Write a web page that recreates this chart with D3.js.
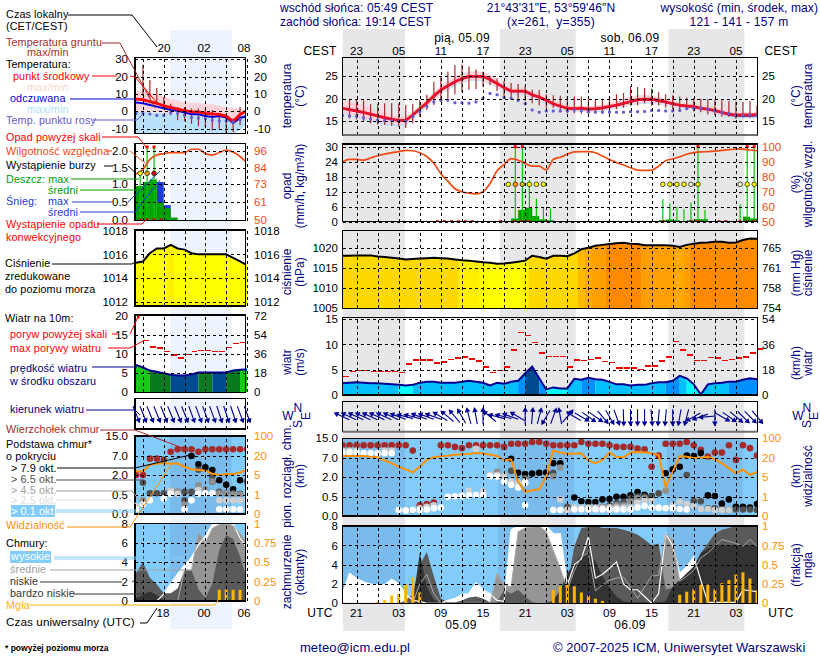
<!DOCTYPE html>
<html><head><meta charset="utf-8">
<script src="https://cdnjs.cloudflare.com/ajax/libs/d3/7.8.5/d3.min.js"></script>
<style>html,body{margin:0;padding:0;background:#fff}svg{display:block}text{font-family:"Liberation Sans",Arial,sans-serif;font-size:12px}</style>
</head><body><svg id="c" width="820" height="660"></svg>
<script>
// ---------- main series, hourly ----------
const temp=[17.9,17.6,17.3,17,16.6,16.2,15.8,15.5,15.2,15.2,16.4,17.8,19.1,20.6,22,22.9,23.8,24.5,25,25,25,24.3,23.4,22.5,21.7,21.7,21.7,20.9,20.4,19.7,18.9,18.4,17.9,17.8,17.9,17.7,17.8,18,18.3,18.6,19,19.4,19.8,19.9,19.9,19.6,19.3,18.9,18.6,18.4,18.3,17.9,17.7,17.4,17,16.6,16.4,16.4,16.4,16.5];
const tempHi=[19.4,19.3,19,18.5,18,17.5,17,16.5,16.2,16.2,17.2,18.6,20,21.5,23,24,25,25.7,26,26.2,26,25.3,24.3,23.3,22.5,22.5,22.5,21.7,21.2,20.6,19.7,19.2,18.6,18.5,18.5,18.4,18.5,18.7,19.1,19.5,20,20.5,20.8,20.9,20.8,20.4,20,19.6,19.2,19,18.9,18.6,18.4,18.2,17.8,17.3,17,17,17,17];
const tempLo=[16.8,16.5,16,15.6,15.2,14.9,14.6,14.4,14.2,14.3,15.5,17,18.3,19.8,21.2,22.1,23,23.6,24.1,24.2,24.1,23.4,22.6,21.8,21,21,21,20.2,19.7,19,18.3,17.8,17.3,17.2,17.3,17.1,17.2,17.4,17.7,18,18.3,18.7,19,19.1,19.1,18.9,18.6,18.3,18,17.8,17.7,17.3,17.1,16.8,16.4,16,15.9,15.9,15.9,16];
const felt=[17.8,17.5,17.2,16.9,16.5,16.1,15.7,15.4,15.1,15.1,16.3,17.7,19,20.5,21.9,22.8,23.7,24.4,24.9,24.9,24.9,24.2,23.3,22.4,21.6,21.6,21.6,20.8,20.3,19.6,18.8,18.3,17.8,17.7,17.8,17.6,17.7,17.9,18.2,18.5,18.9,19.3,19.7,19.8,19.8,19.5,19.2,18.8,18.5,18.3,18.2,17.8,17.6,17.3,16.9,16.4,16.2,16.2,16.2,16.3];
const feltLo=[16.5,16.2,15.7,15.3,14.9,14.5,14.2,14,13.9,14,15.3,16.8,18.1,19.6,21,21.9,22.8,23.4,23.9,24,23.9,23.2,22.4,21.6,20.8,20.8,20.8,20,19.5,18.8,18.1,17.6,17.1,17,17.1,16.9,17,17.2,17.5,17.8,18.1,18.5,18.8,18.9,18.9,18.7,18.4,18.1,17.8,17.6,17.5,17.1,16.9,16.6,16.2,15.8,15.6,15.6,15.6,15.7];
const dew=[16.3,16.2,16.1,15.8,15.5,15.3,15.1,15.1,15,15,16,17.1,18.3,19.3,19.7,19.7,19.1,19.1,19,19.3,20.1,21.2,20.9,20.3,20.1,19.6,18.9,17.5,17,17.3,17.3,17.3,17.3,17.5,17.4,17.1,17,17,17,17,17,17.1,17.1,17.2,17.4,17.4,17.3,17.3,17.4,17.8,17.9,17.9,17.7,17.3,17,16.8,16.4,16.3,16.4,16.4];
const groundMax=[null,20,19.8,19.6,18.8,18.9,19,19,18.9,18.6,18.9,19.7,20.9,23.8,25,26,27.5,27.6,27.2,26.5,26,25,24.5,24,23.5,23.3,23,22,22,21,20.8,20.7,20.4,20.5,20.5,19.9,19.8,20,20.5,21,21.3,22.8,22.6,22.4,22.3,21.5,21,20.8,20.5,20.3,20.1,20,19.9,19.8,19.7,19.5,19.4,19.3,19.5,18.5];
const groundMin=[null,15.6,15.4,15,14.5,14.3,14.2,14,13.8,13.5,14.5,16,17.5,18.6,19.3,20,21,21.5,22,22.2,22.7,23,21.7,20.5,20,20,19.5,19,18.5,18,18,17,16.8,16.8,16.7,16.7,17,17,17.3,17.7,18,18.5,18.5,19,18.5,18.5,18,17.7,17.5,17.5,17.2,17,16.5,16.3,16,16,15.5,15.8,15.8,16];
const humidity=[90,91.5,91.5,91,92.5,94,95,96,96.7,97.5,97.3,96,93.5,89,82,77,72,70,69,68.5,70,75.5,84,88,92,91,89,87,87,84.5,91.5,93,95,96.5,96.7,96.7,96,93.8,91.5,89.5,87.8,86,84.4,84.2,84.4,87,90.7,91.8,93.3,95,96,96.5,96.7,97,97.5,98,98.4,98.4,97.8,97.3];
const rainAvg=[0,0,0,0,0,0,0,0,0,0,0,0,0,0,0,0,0,0,0,0,0,0,0,0,1.3,4.7,5.6,2.3,.9,.6,0,0,0,0,0,0,0,0,0,0,0,0,0,0,0,.6,.9,.6,0,.6,1,1,0,0,0,.2,.3,2,1.3,0];
const rainMax=[0,0,0,0,0,0,0,0,0,0,0,0,0,0,0,0,0,0,0,0,0,0,0,0,99,99,16.7,9.3,5.7,5.3,0,0,0,0,0,0,0,0,0,0,0,0,0,0,0,9,7.3,6,5,7.7,99,4.7,0,0,0,.5,7,99,99,0];
const convHours=[13.5,14.5,15.5,16.5,17.5,18.5,22.5,24.5,25.5,26.5,45.6,49.6,50.6,53.6,54.6,56.6,57.6,58.6];
const stormHours=[23.6,24.6,25.6,26.6,27.6,28.6,45.6,46.6,47.6,48.6,49.6,50.6,56.6,57.6,58.6];
const stormLevels=[1,2,2,1,1,1,1,1,1,1,0,1,0,1,1];
const pressure=[1018,1018,1018.1,1018.1,1018.1,1017.8,1017.7,1017.5,1017.3,1017.1,1017.2,1017.3,1017.4,1017.5,1017.4,1017.3,1017.1,1016.9,1016.8,1016.6,1016.4,1016.3,1016,1016.1,1016.3,1016.5,1016.8,1018,1017.7,1017.3,1018,1018,1017.9,1018.6,1019.6,1020,1020.5,1020.7,1020.9,1021.1,1021.2,1021,1020.9,1020.6,1020.6,1020.6,1020.6,1020.5,1020.2,1020.7,1021,1021.2,1021.3,1021.5,1021.5,1021.2,1021.3,1021.9,1022.3,1022.2];
const wind=[2.3,2.4,2.5,2.4,2.3,2.3,2.2,2.1,2,1.9,2,2.4,2.6,2.6,2.4,2.4,2.4,2.6,2.8,2.6,2.4,1.9,2.4,2.2,2.6,2.8,4.3,5.6,3.3,1.1,1.5,1.3,1.3,3.2,3,3.4,3.1,3,2.6,2.1,2.1,1.9,2,2,2.3,2.5,2.5,2.8,3.8,3.3,2.1,.1,2.1,2.3,2.4,2.6,2.6,3,3.3,3.1];
const gust=[3.6,4.6,4.9,4.9,4.6,4.6,4.7,4.7,4.5,6.1,6.9,6.9,6.9,6.3,6.5,7,7.3,7.5,7.1,6.7,5.5,4.5,4.9,5.5,8.9,12.4,11.8,10.4,8.3,7.6,7.6,7.6,5.5,6.9,6.8,7,7.3,6.6,6.4,5.3,5.3,5.3,5.1,5.7,5.7,6.7,7.5,10.6,8.9,7.9,6.8,6.8,7.4,7.3,6.8,7,7.3,7.5,8.3,9.1];
const windBands=[[0,8,1],[8,10,0],[10,25,1],[25,26,2],[26,28,3],[28,29,2],[29,32,0],[32,34,1],[34,36,2],[36,46,1],[46,48,2],[48,49,1],[49,51,0],[51,55,1],[55,59,2]];
const windDir=[295,295,295,295,295,295,295,295,290,285,285,290,290,290,300,310,320,330,345,350,0,310,285,285,290,300,0,5,15,210,20,350,40,300,120,125,125,140,150,160,178,180,180,180,175,185,185,180,190,195,240,250,265,180,120,125,130,135,135,140];
const visibility=[28,28,28,28,25,23,18,16,13,11,8.7,13,18.5,23,27,29,33,35,36,40,38,33,28,18,19,4,1.95,2.3,2.5,5.5,50,42,36,38,39,18,16,18.5,42,25,23,42,44,43,39,32,3,9,28,25,20,21,25,19,16,12,8,11,6.6,9];
const cloudHigh=[1,3.1,2.6,2.2,2,1.9,1.9,2.5,2,1,.3,.2,0,0,0,.3,.5,.9,1,2.1,1.4,1,.3,.2,7.6,8,8,8,8,8,7.2,7.2,1.9,4,4.6,6.9,2.6,3,3.6,4.3,2,1.4,1.4,.7,0,1,7.2,6,3.1,3.8,4.8,2.4,.1,.1,.1,.1,.1,1.4,1.3,1.2];
const cloudMid=[0,0,0,0,0,0,0,0,0,0,0,2,3,1,0,0,0,0,0,0,0,0,3.1,1.9,1.7,7.4,7.8,7.9,8,7.4,5.5,3.6,1.4,3.4,4.8,5.2,1.3,1.9,2.4,2.6,2.7,1.7,.5,1.7,2.8,2.9,7.2,6.6,2.3,2.8,3.4,4.7,5.2,5.9,6.6,6.4,6.2,5.9,6.6,5.9];
const cloudLow=[0,0,0,0,0,0,0,0,0,.3,1,4,5.3,2.8,.5,.1,.1,.3,.6,.7,.5,.1,.1,1.4,1,1.4,.7,.1,0,0,0,.3,1.7,5.9,7.8,7.9,8,7.8,7.8,7.8,7.6,7.4,7.1,6.6,6,6.2,1.4,1.6,2.4,2.8,3.1,5.2,6.2,7.2,7.6,7.8,8,8,8,8];
const cloudVeryLow=[0,0,0,0,0,0,0,0,0,0,.1,5.2,1.7,.4,0,0,0,0,0,0,0,0,0,0,0,0,0,0,0,0,.3,1.4,3.1,4.1,5,5.2,4.3,2.8,1.6,.7,.2,.1,.1,.1,.1,.1,.2,1.7,2.4,3.1,3.8,5.2,5.7,6,6,6,6,6,6,6];
const fog=[0,0,0,0,0,.02,.04,.1,.12,.24,.34,.14,0,0,0,0,0,0,0,0,0,0,0,0,0,0,0,0,0,0,.17,.22,.24,.22,.14,.1,.06,.03,0,0,0,0,0,0,0,0,0,0,.11,.15,.18,.24,.24,.18,.26,.3,.37,.4,.32,.17];
// cloud dots [hour, km]
const topsM=[[0,12.2],[1,12.2],[2,12.2],[3,12.2],[4,12.2],[5,12.2],[6,12.2],[7,12.2],[8,12.2],[9,12.2],[10,10],[11,.28],[12,.31],[13,.35],[14,12.2],[15,12.2],[16,11.5],[17,11],[18,12.2],[19,12.2],[20,12.2],[21,12.2],[22,12.2],[23,11.5],[24,12.8],[25,12.8],[26,12.8],[27,13.5],[28,13.5],[29,12.8],[30,12.2],[31,12.2],[32,12.2],[33,12.2],[34,13.5],[35,12.8],[36,12.8],[37,12.8],[38,12.2],[39,11.5],[40,11.5],[41,11.5],[42,10.8],[43,10.5],[44,4.7],[45,8],[46,12.8],[47,12.8],[48,12.8],[49,13.5],[50,12.2],[51,10.3],[52,7.6],[53,9.2],[54,9.2],[55,12.2],[56,6.5],[57,12.2],[58,11],[59,8]];
const over79M=[[24,6.8],[25,3.1],[26,2.8],[27,2.9],[28,3.1],[29,3.2],[30,5.6],[31,5.6],[33,.48],[34,.38],[35,.36],[36,.36],[37,.43],[38,.44],[39,.5],[40,.5],[41,.6],[42,.85],[43,.65],[44,.55],[46,3],[47,4],[48,4.7],[49,8],[50,7.8],[51,9],[52,.6],[53,.55],[54,.32],[55,.43],[56,.24],[57,.24],[58,.22],[59,.31]];
const over65M=[[10,.15],[11,.19],[12,.24],[13,.28],[23,2.3],[24,3.6],[26,1.9],[30,3.1],[32,.24],[33,.2],[34,.2],[35,.2],[36,.2],[37,.24],[38,.28],[39,.34],[40,.37],[41,.46],[42,.52],[43,.52],[44,.52],[45,.75],[49,2.5],[50,.39],[51,.38],[52,.2],[53,.2],[54,.17],[55,.155],[56,.17],[57,.17],[58,.17],[59,.155]];
const over45M=[[6,9.6],[7,9.6],[9,.15],[22,3.4],[23,2],[26,1.8],[30,2.2],[31,4.5],[32,.17],[33,.17],[34,.17],[35,.17],[36,.17],[37,.2],[38,.24],[39,.28],[40,.28],[41,.37],[42,.46],[43,.46],[44,.41],[46,.96]];
const over25M=[[0,10],[1,10],[2,10],[6,10],[7,10],[9,.155],[11,.2],[12,.24],[13,.28],[18,.96],[19,10.7],[20,.9],[21,2.5],[22,2.5],[23,2.3],[24,1.65],[25,1.57],[26,1.5],[31,.43],[32,.155],[33,.22],[34,.22],[35,.22],[36,.22],[37,.22],[38,.22],[39,.22],[40,.22],[41,.22],[42,.34],[43,.4],[44,.4],[45,.22],[47,.28],[48,.37],[49,.31],[50,.26],[51,.18],[52,.18],[53,.155],[54,.155],[55,.155]];
const over01M=[[0,9.2],[1,9.2],[2,9.2],[3,9],[4,9],[5,8.9],[6,8.9],[7,8.9],[8,.155],[9,.14],[10,.155],[11,.155],[12,.17],[13,.2],[14,.22],[15,.5],[16,.53],[17,.56],[18,.6],[19,.63],[20,.63],[21,2.2],[22,2.1],[23,1.65],[24,1.4],[25,1.2],[26,.28],[26,1.6],[30,.155],[31,.155],[33,.17],[34,.17],[35,.17],[36,.17],[37,.17],[38,.17],[39,.17],[40,.17],[41,.17],[42,.22],[43,.26],[44,.22],[45,.21],[46,.2],[47,.2],[48,.18],[49,.17]];
// ---------- left legend panel series, hours 14..30 ----------
const lTemp=[7,6.8,5.5,4.5,3,2,1,0,-.5,-.7,-1.5,-1.8,-2,-3,-6,-2,0];
const lFelt=[5,4.5,3.5,2.5,1.5,.5,0,-1,-2,-2,-3,-3.5,-3,-3.8,-6.8,-4,-3];
const lDew=[-1.5,-1.5,-1.9,-2.6,-2.6,-1.1,-1.5,-2.5,-3.8,-4,-4.3,-5.3,-5.7,-5.7,-6.3,-5,-3.4];
const lTempHi=[12,12,11,10,9,7,6,5,5,5,4,4,3,2,2,1,0];
const lFeltHi=[-.5,-.5,-1,-1,-1,-1.5,-1.5,-2,-3,-3,-4,-4,-4,-4.5,-7,-5,-3];
const lFeltLo=[-16,-16,-16,-16,-16,-15,-14,-14,-13,-13,-13,-13,-13,-13,-13,-11,-7];
const lGroundMax=[null,26.8,18.3,13.6,8,4.2,2.3,2.3,1.3,1.3,1.3,.4,-1.5,-2.5,-4.3,2.3,null];
const lGroundMin=[null,8.9,7.9,4.2,1.3,-2.5,-5.3,-5.7,-7.2,-8.7,-9,-11,-10,-13,-12,-8.1,null];
const lHumidity=[80,83,90,93,94,94.7,94.7,94.7,97,97,94,93,94.7,96.5,95,92,87.6];
const lRain=[.95,1.07,1.15,.5,.33,.07,0,0,0,0,0,0,0,0,0,0];
const lSnow=[0,0,0,1.07,.42,0,0,0,0,0,0,0,0,0,0,0];
const lRainMax=[1.3,9,9,0,0,0];
const lConv=[.6,1.6,2.6,3.6];
const lStorm=[.6,1.6,2.6];
const lPressure=[1015.3,1015.4,1016.1,1016.5,1016.5,1016.8,1016.5,1016.4,1016.1,1016,1016,1016,1016,1016,1015.7,1015.4,1015.1];
const lWind=[7.2,6.5,5.7,5.4,5,4.6,4.4,4.4,4.7,5.2,5.2,5.2,5.2,5.2,5.7,5.9,6];
const lGust=[null,13.6,11.9,11.6,10.7,9.8,9,9.9,10.7,11,11,10.7,10.7,11.8,12.8,13.1];
const lWindBands=[[0,2,5],[2,5,4],[5,9,3],[9,11,4],[11,13,3],[13,15,4],[15,16,5]];
const lWindDir=[158,158,158,158,158,158,158,158,160,160,160,160,162,162,162,160,160];
const lVis=[8,8,13,14,14,14,14,11.5,9.5,9,8.5,6,5,5.8,5.8,7,9];
const lHigh=[0,0,0,0,.7,1.8,2.8,3.7,4.5,5.8,6.7,7.9,8,8,8,6.5,5.5];
const lMid=[0,0,0,0,0,0,0,3.2,3.2,7.1,6,7.5,7.9,8,7.8,7,5.9];
const lLow=[2.9,4,2.4,1.7,.8,.8,1.3,3.2,3.2,1.2,.3,1.8,5.3,6.8,6.4,4.6,2.2];
const lVeryLow=[.3,.6,1,.6,.1,0,0,0,0,0,0,0,0,0,0,0,0];
const lFog=[0,0,0,0,0,0,0,0,0,0,0,0,.145,.145,.145,.145,0];
const lTops=[[0,2],[1,2],[2,6.3],[3,6.3],[4,6],[5,8.7],[6,9.7],[7,9.7],[8,9.7],[9,8.7],[10,9.7],[11,9.7],[12,9.7],[13,9.7],[14,9.7],[15,9.7],[16,9.7]];
const l79=[[8,7],[9,4.8],[10,4],[11,3.3],[11,1.5],[12,1.6],[13,1.25],[14,.9],[15,1.6]];
const l65=[[1,1.4],[2,.6],[3,.6],[4,.6],[7,.7],[7,.35],[8,.7],[9,3.4],[11,1.9],[12,.7],[13,.6],[14,.6],[15,.55],[16,1.5]];
const l45=[[1,.35],[5,.8],[6,.75],[7,.25],[9,1.2],[10,.9],[11,1.5],[12,.6],[13,.6],[14,.5],[15,.5]];
const l25=[[0,.2],[5,.8],[6,.55],[9,.85],[12,.35],[13,.35],[14,.35],[15,.35],[16,.35]];
const l01=[[0,.12],[1,.25],[2,.35],[4,.4],[5,.55],[7,.12],[8,.35],[9,.55],[10,.6],[11,.6],[12,.12],[13,.12],[14,.12],[15,.12]];
// ---------- ticks and labels ----------
const gridMain=d3.range(2,60,3), gridLeft=d3.range(15,31,3);
const topTicks=["23","05","11","17","23","05","11","17","23","05"];
const botTicks=["21","03","09","15","21","03","09","15","21","03"];
const tempT=[15,20,25], rainT=[0,6,12,18,24,30], rhT=[50,60,70,80,90,100];
const presT=[1005,1010,1015,1020], hgT=["754","758","761","765"];
const windT=[0,5,10,15], kmhT=["0","18","36","54"];
const cbT=[0,.5,2,7,15], cbL=["0.0","0.5","2.0","7.0","15.0"], visL=["0","1","5","20","100"];
const cldT=[0,2,4,6,8], fogL=["0","0.25","0.5","0.75","1"];

const svg=d3.select("#c");
const F={navy:"#000080",red:"#ff0000",dred:"#a52a2a",rh:"#f04a10",vis:"#ff9000",green:"#00a000",grn2:"#00c800",blue:"#1c3cd8",dew:"#6a5acd",fogc:"#ffb400"};
function T(x,y,s,o={}){const t=svg.append("text").attr("x",x).attr("y",y).text(s).attr("fill",o.f||"#000").attr("text-anchor",o.a||"start").style("letter-spacing",(o.ls??0.25)+"px");if(o.s)t.style("font-size",o.s+"px");if(o.w)t.style("font-weight",o.w);return t;}
function V(x,y,s,o={}){const t=svg.append("text").attr("transform",`translate(${x},${y}) rotate(-90)`).text(s).attr("fill",o.f||F.navy).attr("text-anchor","middle").style("letter-spacing","0px");if(o.s)t.style("font-size",o.s+"px");return t;}
function L(pts,c,w=1){svg.append("path").attr("d",d3.line()(pts)).attr("fill","none").attr("stroke",c).attr("stroke-width",w);}

// night/day bands
const xM=d3.scaleLinear().domain([0,59]).range([342.5,757]);
const xL=d3.scaleLinear().domain([14,30]).range([136,247]);
const nights=[[0,8.9],[22.4,33.2],[46.4,57.2]];
nights.forEach(n=>svg.append("rect").attr("x",n[0]==0?343:xM(n[0])).attr("width",n[0]==0?62:xM(n[1])-xM(n[0])).attr("y",29).attr("height",602).attr("fill","#e7e7e9"));
svg.append("rect").attr("x",170).attr("width",61.7).attr("y",30).attr("height",599).attr("fill","#eef4fd");

const PM={x0:342.5,x1:757.5}, PL={x0:135,x1:245.5};
let cid=0;
function panelFrame(P,y0,y1,xs,grid,yS,yT){
 const g=svg.append("g").style("shape-rendering","crispEdges");
 g.append("g").attr("transform",`translate(0,${y1})`).call(d3.axisBottom(xs).tickValues(grid).tickSize(-(y1-y0)).tickFormat("")).call(a=>{a.select(".domain").remove();a.selectAll("line").attr("stroke","#000").attr("stroke-dasharray","3,3");});
 g.append("g").attr("transform",`translate(${P.x0},0)`).call(d3.axisLeft(yS).tickValues(yT).tickSize(-(P.x1-P.x0)).tickFormat("")).call(a=>{a.select(".domain").remove();a.selectAll("line").attr("stroke","#000").attr("stroke-dasharray","3,3");});
 g.append("rect").attr("x",P.x0).attr("y",y0).attr("width",P.x1-P.x0).attr("height",y1-y0).attr("fill","none").attr("stroke","#000").attr("stroke-width",1.4);
}
function clip(P,y0,y1,d){const id="cp"+(cid++);const c=svg.append("clipPath").attr("id",id);if(d)c.append("path").attr("d",d);else c.append("rect").attr("x",P.x0).attr("y",y0).attr("width",P.x1-P.x0).attr("height",y1-y0);return id;}
function yAxis(x,yS,vals,labs,color,side,pad=0){
 const ax=(side=="left"?d3.axisLeft(yS):d3.axisRight(yS)).tickValues(vals).tickSize(0).tickPadding(0).tickFormat((d,i)=>labs?labs[i]:d);
 svg.append("g").attr("transform",`translate(${x},0)`).call(ax).call(a=>{a.select(".domain").remove();a.selectAll("text").attr("fill",color).style("font-family",'"Liberation Sans",Arial,sans-serif').style("font-size","11.5px").style("letter-spacing","0px");});
}
// --- temperature panel
function tempPanel(P,xs,grid,y0,y1,yS,yT,a){
 const cp=clip(P,y0,y1);const g=svg.append("g").attr("clip-path",`url(#${cp})`);
 const n=a.t.length, idx=d3.range(n), X=i=>xs(a.h+i);
 g.append("path").attr("fill","#b8e2fb").attr("d",d3.area().x(X).y0(i=>yS(a.fh[i])).y1(i=>yS(a.fl[i]))(idx));
 g.append("path").attr("fill","#fbd3d8").attr("d",d3.area().x(X).y0(i=>yS(a.th[i])).y1(i=>yS(a.tl[i]))(idx));
 idx.forEach(i=>{if(a.gM[i]!=null)g.append("line").attr("x1",X(i)).attr("x2",X(i)).attr("y1",yS(a.gM[i])).attr("y2",yS(a.gm[i])).attr("stroke",F.dred).attr("stroke-width",1.2);});
 g.append("path").attr("fill","none").attr("stroke","#0000e0").attr("stroke-width",a.fw).attr("d",d3.line().x(X).y(i=>yS(a.f[i]))(idx));
 g.append("path").attr("fill","none").attr("stroke",a.rc).attr("stroke-width",2.8).attr("d",d3.line().x(X).y(i=>yS(a.t[i]))(idx));
 idx.forEach(i=>g.append("rect").attr("x",X(i)-1.5).attr("y",yS(a.d[i])-1.5).attr("width",3).attr("height",3).attr("fill",F.dew).attr("rx",1));
 panelFrame(P,y0,y1,xs,grid,yS,yT);
}
const yTm=d3.scaleLinear().domain([15,25]).range([121.3,76.3]);
tempPanel(PM,xM,gridMain,57.3,135,yTm,tempT,{h:0,t:temp,th:tempHi,tl:tempLo,f:felt,fh:tempLo,fl:feltLo,gM:groundMax,gm:groundMin,d:dew,rc:"#e8102a",fw:1.5});
const yTl=d3.scaleLinear().domain([-10,0,10,20,30]).range([128.7,110.7,94.3,77,59]);
tempPanel(PL,xL,gridLeft,57.3,133.7,yTl,[-10,0,10,20,30],{h:14,t:lTemp,th:lTempHi,tl:lFeltHi,f:lFelt,fh:lFeltHi,fl:lFeltLo,gM:lGroundMax,gm:lGroundMin,d:lDew,rc:"#ff0000",fw:2});
L([[342.5,135],[757.5,135]],"#6f7072",2);
yAxis(338,yTm,tempT,null,"#000","left");yAxis(762,yTm,tempT,null,"#000","right");
yAxis(128,yTl,[-10,0,10,20,30],null,"#000","left");yAxis(254,yTl,[-10,0,10,20,30],null,"#000","right");
// --- precipitation panel
function rainPanel(P,xs,grid,y0,y1,yS,yT,yH,a){
 const cp=clip(P,y0,y1);const g=svg.append("g").attr("clip-path",`url(#${cp})`);
 const X=i=>xs(a.h+i);
 a.sn&&a.sn.forEach((v,i)=>{if(v>0)g.append("rect").attr("x",X(i)).attr("width",X(i+1)-X(i)).attr("y",yS(v)).attr("height",yS(0)-yS(v)).attr("fill",F.blue);});
 a.avg.forEach((v,i)=>{if(v>0)g.append("rect").attr("x",X(i)).attr("width",X(i+1)-X(i)).attr("y",yS(v)).attr("height",yS(0)-yS(v)).attr("fill",F.green);});
 a.max.forEach((v,i)=>{if(v>0){const top=Math.max(yS(v),a.over);g.append("line").attr("x1",X(i+.6)).attr("x2",X(i+.6)).attr("y1",top).attr("y2",yS(0)).attr("stroke",F.grn2).attr("stroke-width",1.2);
   if(yS(v)<a.over)g.append("rect").attr("x",X(i+.6)-1.5).attr("y",a.over-1.5).attr("width",3).attr("height",3).attr("fill","#f00");}});
 g.append("path").attr("fill","none").attr("stroke",F.rh).attr("stroke-width",1.7).attr("d",d3.line().curve(d3.curveMonotoneX).x((d,i)=>X(i)).y(d=>yH(d))(a.rh));
 a.conv.forEach(h=>g.append("rect").attr("x",X(h)-1.5).attr("y",yS(0)-1.5).attr("width",3).attr("height",3).attr("fill","#e00000"));
 a.storm.forEach((h,j)=>g.append("circle").attr("cx",X(h)).attr("cy",a.sy).attr("r",2.3).attr("fill",a.lev?[ "#f4f4d0","#ffff00","#f5b000"][a.lev[j]]:["#ffff00","#f5a000","#e00000"][j]).attr("stroke","#222").attr("stroke-width",.8));
 panelFrame(P,y0,y1,xs,grid,yS,yT);
}
const yRm=d3.scaleLinear().domain([0,30]).range([221.7,146.7]);
const yRHm=d3.scaleLinear().domain([50,100]).range([221.7,146.7]);
rainPanel(PM,xM,gridMain,144,221.7,yRm,rainT,yRHm,{h:0,avg:rainAvg,max:rainMax,rh:humidity,conv:convHours,storm:stormHours,lev:stormLevels,over:146.7,sy:184.3});
const yRl=d3.scaleLinear().domain([0,.5,1,1.5,2]).range([220,202.3,184.3,168,150.7]);
const yRHl=d3.scaleLinear().domain([50,61,73,84,96]).range([220,202.3,184.3,168,150.7]);
rainPanel(PL,xL,gridLeft,143.3,220.7,yRl,[.5,1,1.5,2],yRHl,{h:14,avg:lRain,sn:lSnow,max:lRainMax,rh:lHumidity,conv:lConv,storm:lStorm,over:147,sy:173.3});
yAxis(338,yRm,rainT,null,"#000","left");yAxis(762,yRHm,rhT,null,F.rh,"right");
yAxis(128,yRl,[0,.5,1,1.5,2],["0.0","0.5","1.0","1.5","2.0"],"#000","left");yAxis(254,yRHl,[50,61,73,84,96],null,F.rh,"right");
// --- pressure panel
const presCol=d3.scaleThreshold().domain([1016.6,1017,1019,1020,1020.45,1020.9]).range(["#ffff00","#fff000","#ffd800","#ffbb00","#ffab00","#ff9f00","#ff8a00"]);
function presPanel(P,xs,grid,y0,y1,yS,yT,h,v){
 const X=i=>xs(h+i), A=d3.area().x((d,i)=>X(i)).y0(y1).y1(d=>yS(d))(v);
 const cp=clip(P,y0,y1,A);const cf=clip(P,y0,y1);
 const g=svg.append("g").attr("clip-path",`url(#${cp})`);
 v.forEach((d,i)=>g.append("rect").attr("x",X(i-.5)).attr("width",X(i+.5)-X(i-.5)+.5).attr("y",y0).attr("height",y1-y0).attr("fill",presCol(d)));
 svg.append("g").attr("clip-path",`url(#${cf})`).append("path").attr("fill","none").attr("stroke","#000").attr("stroke-width",2).attr("d",d3.line().x((d,i)=>X(i)).y(d=>yS(d))(v));
 panelFrame(P,y0,y1,xs,grid,yS,yT);
}
const yPm=d3.scaleLinear().domain([1005,1020]).range([308.3,247.7]);
const yHg=d3.scalePoint().domain(hgT).range([308.3,247.7]);
presPanel(PM,xM,gridMain,230.7,308.3,yPm,presT,0,pressure);
const yPl=d3.scaleLinear().domain([1012,1018]).range([301.7,230.7]);
presPanel(PL,xL,gridLeft,230,306,yPl,[1012,1014,1016],14,lPressure);
yAxis(338,yPm,presT,null,"#000","left");yAxis(762,yHg,hgT,null,"#000","right");
yAxis(128,yPl,[1012,1014,1016,1018],null,"#000","left");yAxis(254,yPl,[1012,1014,1016,1018],null,"#000","right");
// --- wind panel
const windCol=["#00ffff","#00c0ff","#0090ff","#004a90","#0a7a1e","#18c818"];
function windPanel(P,xs,grid,y0,y1,yS,yT,h,v,bands,gu){
 const X=i=>xs(h+i), A=d3.area().x((d,i)=>X(i)).y0(y1).y1(d=>yS(d))(v);
 const cp=clip(P,y0,y1,A);
 const g=svg.append("g").attr("clip-path",`url(#${cp})`);
 bands.forEach(b=>g.append("rect").attr("x",X(b[0])).attr("width",X(b[1])-X(b[0])).attr("y",y0).attr("height",y1-y0).attr("fill",windCol[b[2]]));
 svg.append("path").attr("fill","none").attr("stroke","#000090").attr("stroke-width",2).attr("d",d3.line().x((d,i)=>X(i)).y(d=>yS(d))(v));
 gu.forEach((d,i)=>{if(d!=null)svg.append("line").attr("x1",X(i)).attr("x2",X(i+1)-1).attr("y1",yS(d)).attr("y2",yS(d)).attr("stroke","#f00000").attr("stroke-width",1.3).style("shape-rendering","crispEdges");});
 panelFrame(P,y0,y1,xs,grid,yS,yT);
}
const yWm=d3.scaleLinear().domain([0,15]).range([395,319]);
windPanel(PM,xM,gridMain,317.7,395,yWm,[5,10,15],0,wind,windBands,gust);
const yWl=d3.scaleLinear().domain([0,20]).range([392.3,316]);
windPanel(PL,xL,gridLeft,315,392.3,yWl,[5,10,15],14,lWind,lWindBands,lGust);
svg.append("rect").attr("x",137).attr("y",315.5).attr("width",2.5).attr("height",3).attr("fill","#e00000");
yAxis(338,yWm,windT,null,"#000","left");
yAxis(762,d3.scalePoint().domain(kmhT).range([395,319]),kmhT,null,"#000","right");
yAxis(128,yWl,[0,5,10,15,20],null,"#000","left");
yAxis(254,d3.scaleLinear().domain([0,72]).range([392.3,316]),[0,18,36,54,72],null,"#000","right");
// --- wind direction
function dirPanel(P,xs,grid,y0,y1,h,v,len){
 const X=i=>xs(h+i), cy=(y0+y1)/2;
 panelFrame(P,y0,y1,xs,grid,d3.scaleLinear().range([y1,y0]),[]);
 const head=d3.symbol(d3.symbolTriangle,14)();
 v.forEach((a,i)=>{const g=svg.append("g").attr("transform",`translate(${X(i)},${cy}) rotate(${a})`);
  g.append("line").attr("x1",0).attr("x2",0).attr("y1",len).attr("y2",-len).attr("stroke","#000090").attr("stroke-width",1.1);
  g.append("path").attr("d",head).attr("transform",`translate(0,${-len+1})`).attr("fill","#000090");});
}
dirPanel(PM,xM,gridMain,401.7,431.7,0,windDir,7.5);
L([[342.5,431.7],[757.5,431.7]],"#6f7072",2);
dirPanel(PL,xL,gridLeft,398.3,429,14,lWindDir,8);
// --- cloud base panel
const sets=[["#a52a2a"],["#000"],["#505050"],["#909090"],["#cfcfcf"],["#fff"]];
function basePanel(P,xs,grid,y0,y1,yS,yT,h,data,vis,yV,nightRects){
 svg.append("rect").attr("x",P.x0).attr("y",y0).attr("width",P.x1-P.x0).attr("height",y1-y0).attr("fill","#82ccfb");
 nightRects.forEach(n=>svg.append("rect").attr("x",n[0]).attr("width",n[1]-n[0]).attr("y",y0).attr("height",y1-y0).attr("fill","#79bcec"));
 const cp=clip(P,y0,y1);const g=svg.append("g").attr("clip-path",`url(#${cp})`);
 data.forEach((s,j)=>s.forEach(d=>g.append("circle").attr("cx",xs(h+d[0])).attr("cy",yS(d[1])).attr("r",3.3).attr("fill",sets[j][0])));
 g.append("path").attr("fill","none").attr("stroke",F.vis).attr("stroke-width",2).attr("d",d3.line().x((d,i)=>xs(h+i)).y(d=>yV(d))(vis));
 panelFrame(P,y0,y1,xs,grid,yS,yT);
}
const yBm=d3.scaleLinear().domain(cbT).range([516,496.7,477,458,438.3]);
const yVm=d3.scaleLinear().domain([0,1,5,20,100]).range([516,496.7,477,458,438.3]);
const nightRectsM=[[342.5,405],[498,574],[667,742.7]];
basePanel(PM,xM,gridMain,438.3,516,yBm,[.5,2,7],0,[topsM,over79M,over65M,over45M,over25M,over01M],visibility,yVm,nightRectsM);
const yBl=d3.scaleLinear().domain(cbT).range([514,494.5,475,456,436]);
const yVl=d3.scaleLinear().domain([0,1,5,20,100]).range([514,494.5,475,456,436]);
basePanel(PL,xL,gridLeft,436,514,yBl,[.5,2,7],14,[lTops,l79,l65,l45,l25,l01],lVis,yVl,[[170,231.7]]);
yAxis(338,yBm,cbT,cbL,"#000","left");yAxis(762,yVm,[0,1,5,20,100],null,F.vis,"right");
yAxis(128,yBl,cbT,cbL,"#000","left");yAxis(254,yVl,[0,1,5,20,100],null,F.vis,"right");
// --- cloudiness panel
function cloudPanel(P,xs,grid,y0,y1,yS,yT,yF,h,a,nightRects){
 svg.append("rect").attr("x",P.x0).attr("y",y0).attr("width",P.x1-P.x0).attr("height",y1-y0).attr("fill","#82ccfb");
 nightRects.forEach(n=>svg.append("rect").attr("x",n[0]).attr("width",n[1]-n[0]).attr("y",y0).attr("height",y1-y0).attr("fill","#79bcec"));
 const cp=clip(P,y0,y1);const g=svg.append("g").attr("clip-path",`url(#${cp})`);
 const ar=d3.area().x((d,i)=>xs(h+i)).y0(y1).y1(d=>yS(d)), li=d3.line().x((d,i)=>xs(h+i)).y(d=>yS(d));
 g.append("path").attr("d",ar(a.high)).attr("fill","#fff");
 g.append("path").attr("d",ar(a.mid)).attr("fill","#959595");
 g.append("path").attr("d",ar(a.low)).attr("fill","#5a5a5a");
 g.append("path").attr("d",ar(a.vl)).attr("fill","#333");
 g.append("path").attr("d",li(a.high)).attr("fill","none").attr("stroke","#fff").attr("stroke-width",1.2);
 g.append("path").attr("d",li(a.mid)).attr("fill","none").attr("stroke","#a8a8a8").attr("stroke-width",1);
 a.fog.forEach((v,i)=>{if(v>0)g.append("rect").attr("x",xs(h+i)-1.5).attr("width",3).attr("y",yF(v)).attr("height",y1-yF(v)).attr("fill",F.fogc);});
 panelFrame(P,y0,y1,xs,grid,yS,yT);
}
const yCm=d3.scaleLinear().domain([0,8]).range([603.3,526]);
const yFm=d3.scaleLinear().domain([0,1]).range([603.3,526]);
cloudPanel(PM,xM,gridMain,526,603.3,yCm,[2,4,6],yFm,0,{high:cloudHigh,mid:cloudMid,low:cloudLow,vl:cloudVeryLow,fog:fog},nightRectsM);
const yCl=d3.scaleLinear().domain([0,8]).range([601,523.5]);
const yFl=d3.scaleLinear().domain([0,1]).range([601,523.5]);
cloudPanel(PL,xL,gridLeft,523.5,601,yCl,[2,4,6],yFl,14,{high:lHigh,mid:lMid,low:lLow,vl:lVeryLow,fog:lFog},[[170,231.7]]);
yAxis(338,yCm,cldT,null,"#000","left");yAxis(762,yFm,[0,.25,.5,.75,1],fogL,F.vis,"right");
yAxis(128,yCl,cldT,null,"#000","left");yAxis(254,yFl,[0,.25,.5,.75,1],fogL,F.vis,"right");
// --- time axes labels
const sOpt={s:11.7,a:"middle",ls:0}, sBig={s:12,a:"middle",ls:.3};
topTicks.forEach((s,i)=>{T(xM(2+6*i),55,s,sOpt);});
botTicks.forEach((s,i)=>{T(xM(2+6*i),617,s,sOpt);});
T(320,55,"CEST",sBig);T(781,55,"CEST",sBig);T(320,617,"UTC",sBig);T(781,617,"UTC",sBig);
T(462,42,"pią, 05.09",sBig);T(630,42,"sob, 06.09",sBig);
T(461,629,"05.09",sBig);T(630,629,"06.09",sBig);
[["20",164],["02",204],["08",244]].forEach(d=>T(d[1],52,d[0],sOpt));
[["18",163],["00",204],["06",244]].forEach(d=>T(d[1],617,d[0],sOpt));
// --- header / footer
T(280,12,"wschód słońca: 05:49 CEST",{f:F.navy,ls:.1});T(280,26,"zachód słońca: 19:14 CEST",{f:F.navy,ls:.1});
T(551,12,"21°43'31\"E, 53°59'46\"N",{f:F.navy,a:"middle",ls:.1});T(551,26,"(x=261,  y=355)",{f:F.navy,a:"middle"}).style("white-space","pre");
T(818,12,"wysokość (min, środek, max)",{f:F.navy,a:"end",ls:.1});T(739,26,"121 - 141 - 157 m",{f:F.navy,a:"middle"});
T(355,652,"meteo@icm.edu.pl",{f:F.navy,a:"middle",s:13,ls:.1});
T(553,652,"© 2007-2025 ICM, Uniwersytet Warszawski",{f:F.navy,s:13,ls:.05});
T(5,651,"* powyżej poziomu morza",{s:8.5,w:"bold",ls:0});
// --- rotated axis titles
[["temperatura",291,96],["(°C)",304,96],["opad",291,186],["(mm/h, kg/m³/h)",304,186],["ciśnienie",291,272],["(hPa)",304,272],["wiatr",291,362],["(m/s)",304,362],["pion. rozciągł. chm.",291,476],["(km)",304,476],["zachmurzenie",291,572],["(oktanty)",304,572],
 ["(°C)",800,96],["temperatura",812,96],["(%)",800,184],["wilgotność wzgl.",812,184],["(mm Hg)",800,273],["ciśnienie",812,273],["(km/h)",800,363],["wiatr",812,363],["(km)",800,476],["widzialność",812,476],["(frakcja)",800,565],["mgła",812,565]].forEach(d=>V(d[1],d[2],d[0]));
// compass
T(288,420,"W",{f:F.navy,a:"middle"});T(298,412,"N",{f:F.navy,a:"middle"});V(310,416,"E");V(302,424,"S");
T(798,420,"W",{f:F.navy,a:"middle"});T(807,412,"N",{f:F.navy,a:"middle"});V(818,416,"E");V(811,424,"S");
// --- legend annotations
const notes=[
["Czas lokalny",6,18,"#000"],["(CET/CEST)",6,30,"#000"],
["Temperatura gruntu",6,46,F.dred],["max/min",27,56,F.dred],["Temperatura:",6,68,"#000"],
["punkt środkowy",13,80,F.red],["max/min",27,91,"#f9d5cf"],["odczuwana",10,102,"#0000e0"],["max/min",27,113,"#b0e0f8"],
["Temp. punktu rosy",6,124,F.dew],["Opad powyżej skali",6,141,F.red],["Wilgotność względna",6,155,F.rh],
["Wystąpienie burzy",6,169,"#000"],["Deszcz: max",6,183,F.green],["średni",48,194,F.green],["Śnieg:",6,205,F.blue],["max",48,205,F.blue],["średni",48,216,F.blue],
["Wystąpienie opadu",6,228,F.red],["konwekcyjnego",6,241,F.red],
["Ciśnienie",5,267,"#000"],["zredukowane",5,280,"#000"],["do poziomu morza",5,293,"#000"],["Wiatr na 10m:",5,322,"#000"],
["poryw powyżej skali",10,338,F.red],["max porywy wiatru",10,352,F.red],["prędkość wiatru",10,372,F.navy],["w środku obszaru",10,385,F.navy],["kierunek wiatru",10,413,F.navy],
["Wierzchołek chmur",6,433,F.dred],["Podstawa chmur*",6,448,"#000"],["o pokryciu",6,460,"#000"],
["> 7.9 okt.",11,472,"#000"],["> 6.5 okt.",11,483,"#505050"],["> 4.5 okt.",11,494,"#a0a0a0"],["> 2.5 okt.",11,504,"#ddd"],
["Widzialność",6,529,F.vis],["Chmury:",6,547,"#000"],["średnie",10,573,"#a0a0a0"],["niskie",10,585,"#333"],["bardzo niskie",10,597,"#333"],["Mgła",6,609,F.fogc]];
svg.append("rect").attr("x",11).attr("y",505).attr("width",44).attr("height",12).attr("fill","#82ccfb");
svg.append("rect").attr("x",10).attr("y",551).attr("width",41).attr("height",12).attr("fill","#82ccfb");
notes.forEach(n=>T(n[1],n[2],n[0],{f:n[3],s:10.8,ls:.1}));
T(6,626,"Czas uniwersalny (UTC)",{s:11.7,ls:.1});
T(11,515,"> 0.1 okt.",{f:"#fff",s:10.8,ls:.1});T(11,560,"wysokie",{f:"#fff",s:10.8,ls:.1});
L([[68,15],[132,15],[157,47]],"#000");
L([[102,43],[120,43],[155,108]],F.dred);
L([[92,76],[117,76]],"#f00");L([[130,76],[135,77],[158,104]],"#f00");
L([[70,99],[136,99]],"#0000e0");
L([[93,120],[137,120],[142,115]],F.dew);
L([[102,137],[138,137],[146,147]],"#f00");
L([[106,151],[112,151]],F.rh);L([[130,151],[145,163]],F.rh);
L([[104,166],[113,166]],"#000");L([[128,166],[136,173]],"#000");
L([[71,179],[139,179]],F.green);L([[80,190],[146,190]],F.green);
L([[72,202],[112,202]],F.blue);L([[128,202],[160,171]],F.blue);
L([[80,212],[135,212],[160,180]],F.blue);
L([[97,224],[142,224],[146,220]],"#f00");
L([[52,264],[132,264],[135,262]],"#000");
L([[112,334],[118,334]],"#f00");L([[130,334],[138,317]],"#f00");
L([[108,348],[130,348],[145,340]],"#f00");
L([[92,367],[137,367]],"#000090");
L([[86,410],[135,410],[140,415]],"#000090");
L([[100,430],[135,430],[188,450]],F.dred);
L([[57,468],[135,468],[190,455]],"#000");
L([[56,480],[143,480]],"#505050");
L([[56,491],[132,491],[143,505]],"#a0a0a0");
L([[56,500],[130,500],[138,505]],"#ddd");
L([[56,510],[136,510]],"#82ccfb");L([[56,512],[136,512]],"#82ccfb");
L([[67,527],[130,527],[172,463]],F.vis);
L([[54,557],[185,557]],"#82ccfb");L([[54,559],[185,559]],"#82ccfb");
L([[50,570],[193,570]],"#a0a0a0");
L([[40,582],[122,582]],"#333");L([[132,582],[135,580]],"#333");
L([[74,594],[150,594]],"#333");
L([[30,605],[215,605],[218,600]],F.fogc);
L([[140,623],[147,623],[157,608]],"#000");
</script></body></html>
